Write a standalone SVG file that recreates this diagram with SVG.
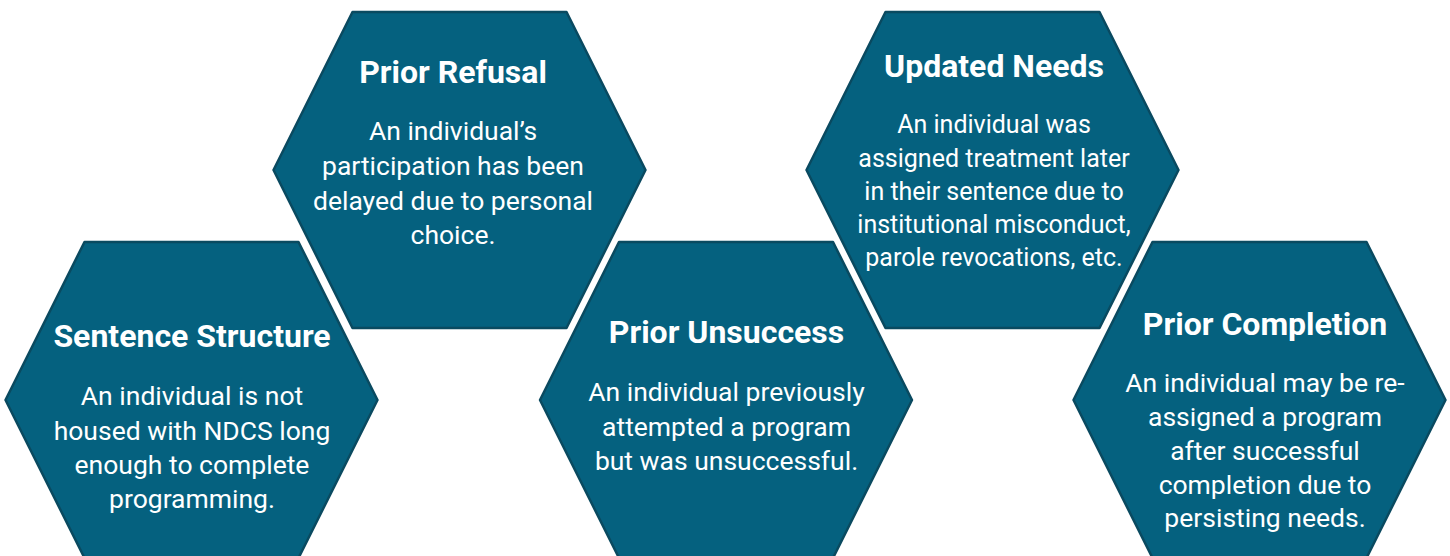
<svg xmlns="http://www.w3.org/2000/svg" width="1450" height="556" viewBox="0 0 1450 556">
<style>
.hex{fill:#05617F;stroke:#0A4A60;stroke-width:2.5;stroke-linejoin:round}
.t{font-family:Roboto,"Liberation Sans",sans-serif;font-weight:700;font-size:32px;fill:#FFFFFF;text-anchor:middle}
.b{font-family:Roboto,"Liberation Sans",sans-serif;font-weight:400;font-size:26.5px;fill:#FFFFFF;text-anchor:middle}
.s{font-size:25px}
</style>
<defs>
<polygon id="hx" points="-186,0 -107,-158 107,-158 186,0 107,158 -107,158"/>
</defs>
<rect width="1450" height="556" fill="#FFFFFF"/>
<g id="connectors"></g>
<g id="prior-refusal">
<use href="#hx" class="hex" transform="translate(459.5,170)"/>
<text class="t" x="453" y="83">Prior Refusal</text>
<text class="b" x="453" y="140">An individual’s</text>
<text class="b" x="453" y="175">participation has been</text>
<text class="b" x="453" y="210">delayed due to personal</text>
<text class="b" x="453" y="244">choice.</text>
</g>
<g id="updated-needs">
<use href="#hx" class="hex" transform="translate(992.5,170)"/>
<text class="t" x="994" y="77">Updated Needs</text>
<text class="b s" x="994" y="133">An individual was</text>
<text class="b s" x="994" y="167">assigned treatment later</text>
<text class="b s" x="994" y="200">in their sentence due to</text>
<text class="b s" x="994" y="233">institutional misconduct,</text>
<text class="b s" x="994" y="266">parole revocations, etc.</text>
</g>
<g id="sentence-structure">
<use href="#hx" class="hex" transform="translate(191.5,400)"/>
<text class="t" x="192" y="347">Sentence Structure</text>
<text class="b" x="192" y="405">An individual is not</text>
<text class="b" x="192" y="440">housed with NDCS long</text>
<text class="b" x="192" y="474">enough to complete</text>
<text class="b" x="192" y="508">programming.</text>
</g>
<g id="prior-unsuccess">
<use href="#hx" class="hex" transform="translate(726,400)"/>
<text class="t" x="726.5" y="343">Prior Unsuccess</text>
<text class="b" x="726.5" y="401">An individual previously</text>
<text class="b" x="726.5" y="436">attempted a program</text>
<text class="b" x="726.5" y="470">but was unsuccessful.</text>
</g>
<g id="prior-completion">
<use href="#hx" class="hex" transform="translate(1259.5,400)"/>
<text class="t" x="1265" y="335">Prior Completion</text>
<text class="b" x="1265" y="392">An individual may be re-</text>
<text class="b" x="1265" y="426">assigned a program</text>
<text class="b" x="1265" y="460">after successful</text>
<text class="b" x="1265" y="494">completion due to</text>
<text class="b" x="1265" y="527">persisting needs.</text>
</g>
</svg>
